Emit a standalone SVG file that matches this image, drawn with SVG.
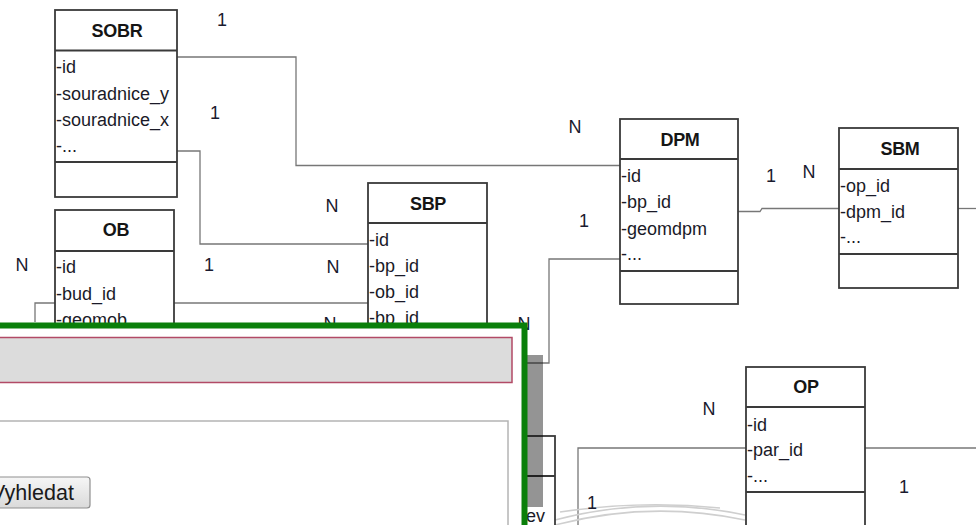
<svg xmlns="http://www.w3.org/2000/svg" width="976" height="525" viewBox="0 0 976 525">
<style>
.box{fill:#fff;stroke:#3a3a3a;stroke-width:1.8}
.sep{stroke:#3a3a3a;stroke-width:1.8}
.hd{font-family:"Liberation Sans",Arial,sans-serif;font-size:18px;font-weight:bold;fill:#151515;text-anchor:middle;letter-spacing:-0.3px}
.at{font-family:"Liberation Sans",Arial,sans-serif;font-size:18px;fill:#1a1a28}
.lb{font-family:"Liberation Sans",Arial,sans-serif;font-size:18px;fill:#1a1a2e;text-anchor:middle}
.cn{fill:none;stroke:#777;stroke-width:1.3}
.arc{fill:none;stroke:#cfcfcf;stroke-width:1.6}
</style>
<rect width="976" height="525" fill="#fff"/>

<g id="connectors">
<polyline class="cn" points="177,57 296,57 296,165.5 620,165.5"/>
<polyline class="cn" points="177,151 200,151 200,244 368,244"/>
<polyline class="cn" points="174,303 368,303"/>
<polyline class="cn" points="55,303 35,303 35,322"/>
<polyline class="cn" points="620,259 549,259 549,363 527,363"/>
<polyline class="cn" points="738,211.5 760,211.5 762,208.5 839,208.5"/>
<polyline class="cn" points="958,208.5 976,208.5"/>
<polyline class="cn" points="746,448 578,448 578,525"/>
<polyline class="cn" points="865,448 976,448"/>
<path class="arc" d="M555,520 Q650,495 745,515"/>
<path class="arc" d="M555,525 Q650,500 745,520"/>
<path class="arc" d="M560,512 Q640,500 720,508"/>
</g>

<g id="labels">
<text class="lb" x="222" y="26">1</text>
<text class="lb" x="215" y="119">1</text>
<text class="lb" x="575" y="133">N</text>
<text class="lb" x="332" y="212">N</text>
<text class="lb" x="333" y="273">N</text>
<text class="lb" x="209" y="271">1</text>
<text class="lb" x="22" y="271">N</text>
<text class="lb" x="330" y="330">N</text>
<text class="lb" x="524" y="330">N</text>
<text class="lb" x="584" y="227">1</text>
<text class="lb" x="771" y="182">1</text>
<text class="lb" x="809" y="178">N</text>
<text class="lb" x="709" y="415">N</text>
<text class="lb" x="904" y="493">1</text>
<text class="lb" x="592" y="509">1</text>
</g>

<g id="SOBR">
<rect class="box" x="55" y="10" width="122" height="187"/>
<line class="sep" x1="55" y1="50.5" x2="177" y2="50.5"/>
<line class="sep" x1="55" y1="162" x2="177" y2="162"/>
<text class="hd" x="117" y="37">SOBR</text>
<text class="at" x="56" y="73">-id</text>
<text class="at" x="56" y="99.5">-souradnice_y</text>
<text class="at" x="56" y="126">-souradnice_x</text>
<text class="at" x="56" y="152">-...</text>
</g>

<g id="OB">
<rect class="box" x="55" y="210" width="119" height="160"/>
<line class="sep" x1="55" y1="251" x2="174" y2="251"/>
<text class="hd" x="116" y="236">OB</text>
<text class="at" x="56" y="273">-id</text>
<text class="at" x="56" y="300">-bud_id</text>
<text class="at" x="56" y="326">-geomob</text>
</g>

<g id="SBP">
<rect class="box" x="368" y="183" width="119" height="190"/>
<line class="sep" x1="368" y1="223" x2="487" y2="223"/>
<text class="hd" x="428" y="210">SBP</text>
<text class="at" x="369" y="246">-id</text>
<text class="at" x="369" y="272">-bp_id</text>
<text class="at" x="369" y="298">-ob_id</text>
<text class="at" x="369" y="324">-bp_id</text>
</g>

<g id="DPM">
<rect class="box" x="620" y="119" width="118" height="185"/>
<line class="sep" x1="620" y1="159" x2="738" y2="159"/>
<line class="sep" x1="620" y1="271" x2="738" y2="271"/>
<text class="hd" x="680" y="146">DPM</text>
<text class="at" x="621" y="182">-id</text>
<text class="at" x="621" y="208">-bp_id</text>
<text class="at" x="621" y="234.5">-geomdpm</text>
<text class="at" x="621" y="260">-...</text>
</g>

<g id="SBM">
<rect class="box" x="839" y="128" width="119" height="160"/>
<line class="sep" x1="839" y1="169" x2="958" y2="169"/>
<line class="sep" x1="839" y1="254" x2="958" y2="254"/>
<text class="hd" x="900" y="155">SBM</text>
<text class="at" x="840" y="192">-op_id</text>
<text class="at" x="840" y="218">-dpm_id</text>
<text class="at" x="840" y="243">-...</text>
</g>

<g id="OP">
<rect class="box" x="746" y="367" width="119" height="170"/>
<line class="sep" x1="746" y1="407" x2="865" y2="407"/>
<line class="sep" x1="746" y1="492" x2="865" y2="492"/>
<text class="hd" x="806" y="393">OP</text>
<text class="at" x="747" y="431">-id</text>
<text class="at" x="747" y="456">-par_id</text>
<text class="at" x="747" y="482">-...</text>
</g>

<g id="hidden-table">
<rect class="box" x="440" y="436" width="115" height="100"/>
<line class="sep" x1="440" y1="476" x2="555" y2="476"/>
<text class="at" x="526" y="522">ev</text>
</g>

<g id="dialog">
<rect x="527" y="355" width="16" height="152" fill="#000" fill-opacity="0.42"/>
<rect x="-10" y="325.5" width="534.5" height="215" fill="#fff" stroke="#0a7f0a" stroke-width="6"/>
<rect x="-5" y="337.5" width="517" height="45" fill="#dcdcdc" stroke="#b24a66" stroke-width="1.5"/>
<rect x="-5" y="421" width="513" height="115" fill="#fff" stroke="#b4b4b4" stroke-width="1.5"/>
<defs>
<linearGradient id="btn" x1="0" y1="0" x2="0" y2="1">
<stop offset="0" stop-color="#f6f6f6"/>
<stop offset="1" stop-color="#dadada"/>
</linearGradient>
</defs>
<rect x="-8" y="477" width="98" height="31" rx="3" fill="url(#btn)" stroke="#8f8f8f" stroke-width="1.2"/>
<text x="-9" y="500" font-family="Liberation Sans,Arial,sans-serif" font-size="21.5" fill="#1a1a1a">Vyhledat</text>
</g>
</svg>
